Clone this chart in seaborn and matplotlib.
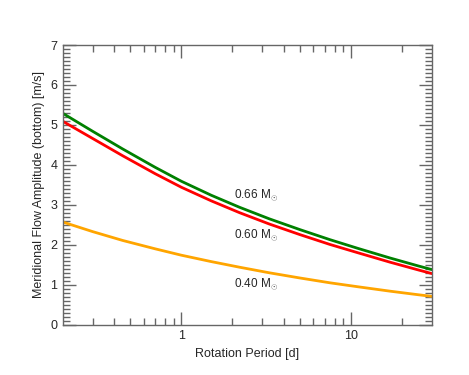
import numpy as np
import pandas as pd
import matplotlib
matplotlib.use('Agg')
import matplotlib.pyplot as plt
from matplotlib.ticker import FixedLocator, FixedFormatter, NullFormatter, MultipleLocator
import seaborn as sns

sns.set_style('ticks')
plt.rcParams['font.family'] = ['Liberation Sans', 'DejaVu Sans']
plt.rcParams['mathtext.fontset'] = 'custom'
plt.rcParams['mathtext.rm'] = 'Liberation Sans'
plt.rcParams['mathtext.it'] = 'Liberation Sans'

# values
period = [0.2, 0.3, 0.45, 0.7, 1.0, 1.5, 2.2, 3.3, 5.0, 7.5, 11.0, 17.0, 25.0, 30.0]
amp_066 = [5.29, 4.84, 4.40, 3.94, 3.59, 3.24, 2.94, 2.65, 2.38, 2.13, 1.91, 1.67, 1.47, 1.38]
amp_060 = [5.09, 4.66, 4.23, 3.78, 3.44, 3.10, 2.805, 2.52, 2.255, 2.01, 1.80, 1.565, 1.37, 1.28]
amp_040 = [2.57, 2.33, 2.11, 1.90, 1.74, 1.58, 1.44, 1.30, 1.17, 1.05, 0.95, 0.84, 0.75, 0.71]
mass_labels = ['0.66', '0.60', '0.40']
colors = ['green', 'red', 'orange']

#Build long-form table
df = pd.DataFrame({
    'period': period * 3,
    'amp': amp_066 + amp_060 + amp_040,
    'mass': [m for m in mass_labels for _ in period],
})

fig = plt.figure(figsize=(4.69, 3.75), dpi=100)
ax = fig.add_axes([0.134, 0.134, 0.787, 0.746])

sns.lineplot(data=df, x='period', y='amp', hue='mass', palette=colors,
             hue_order=mass_labels, linewidth=2, legend=False, ax=ax)

ax.set_xscale('log')
ax.set_xlim(0.2, 30)
ax.set_ylim(0, 7)

#Ticks on all sides, pointing in
ax.xaxis.set_major_locator(FixedLocator([1, 10]))
ax.xaxis.set_major_formatter(FixedFormatter(['1', '10']))
minors = [0.3, 0.4, 0.5, 0.6, 0.7, 0.8, 0.9, 2, 3, 4, 5, 6, 7, 8, 9, 20]
ax.xaxis.set_minor_locator(FixedLocator(minors))
ax.xaxis.set_minor_formatter(NullFormatter())
ax.yaxis.set_major_locator(MultipleLocator(1))
ax.yaxis.set_minor_locator(MultipleLocator(0.1))

gray = '#666666'
ax.tick_params(which='both', direction='in', top=True, right=True,
               color=gray, labelsize=9, pad=4)
ax.tick_params(which='major', length=9.5, width=1)
ax.tick_params(which='minor', length=4.8, width=1)
for s in ax.spines.values():
    s.set_color(gray)
    s.set_linewidth(1)

ax.set_xlabel('Rotation Period [d]', fontsize=9)
ax.set_ylabel('Meridional Flow Amplitude (bottom) [m/s]', fontsize=9)

#Curve labels
label_pos = [(2.05, 3.25), (2.05, 2.25), (2.05, 1.02)]
for m, (x, y) in zip(mass_labels, label_pos):
    ax.text(x, y, m + r' M$_{\odot}$', fontsize=8.5, va='center', ha='left')

fig.savefig('out.png', dpi=100)
